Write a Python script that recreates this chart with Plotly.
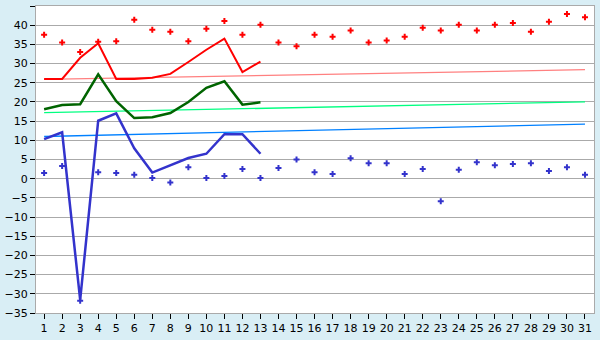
import plotly.graph_objects as go

days = list(range(1, 32))
red_pts = [37.5, 35.5, 33.0, 35.7, 35.8, 41.4, 38.8, 38.3, 35.8, 39.1, 41.1, 37.5, 40.1,
           35.5, 34.5, 37.5, 37.0, 38.6, 35.5, 36.0, 37.0, 39.3, 38.6, 40.1, 38.6, 40.1,
           40.6, 38.3, 40.9, 42.9, 42.1]
blue_pts = [1.5, 3.3, -31.8, 1.7, 1.5, 1.0, 0.2, -1.0, 3.0, 0.2, 0.7, 2.5, 0.2,
            2.8, 5.0, 1.7, 1.2, 5.3, 4.0, 4.0, 1.2, 2.5, -5.9, 2.3, 4.3, 3.5,
            3.8, 4.0, 2.0, 3.0, 1.0]
line_days = list(range(1, 14))
red_line = [26.0, 26.0, 31.5, 35.3, 26.0, 26.0, 26.3, 27.3, 30.4, 33.6, 36.5, 27.8, 30.5]
green_line = [18.1, 19.2, 19.4, 27.2, 20.2, 15.8, 16.0, 17.1, 20.0, 23.7, 25.4, 19.3, 19.9]
blue_line = [10.3, 12.1, -31.6, 15.1, 17.0, 7.9, 1.6, 3.5, 5.4, 6.5, 11.6, 11.6, 6.5]
trend_x = [1, 31]
pink_trend = [25.9, 28.4]
lgreen_trend = [17.2, 20.0]
lblue_trend = [11.0, 14.2]
y_ticks = list(range(-35, 50, 5))

fig = go.Figure()
for ys, c in [(pink_trend, "#FF8080"), (lgreen_trend, "#00FF80"), (lblue_trend, "#0080FF")]:
    fig.add_trace(go.Scatter(x=trend_x, y=ys, mode="lines", line=dict(color=c, width=1.3)))
fig.add_trace(go.Scatter(x=line_days, y=red_line, mode="lines", line=dict(color="#FF0000", width=2)))
fig.add_trace(go.Scatter(x=line_days, y=green_line, mode="lines", line=dict(color="#006400", width=2.5)))
fig.add_trace(go.Scatter(x=line_days, y=blue_line, mode="lines", line=dict(color="#3333CC", width=2.5)))
fig.add_trace(go.Scatter(x=days, y=red_pts, mode="markers",
                         marker=dict(symbol="cross", size=5, color="#FF0000")))
fig.add_trace(go.Scatter(x=days, y=blue_pts, mode="markers",
                         marker=dict(symbol="cross", size=5, color="#3333CC")))

fig.update_layout(
    width=600, height=340, showlegend=False,
    margin=dict(l=26, r=5, t=5, b=20),
    paper_bgcolor="#D9EEF5", plot_bgcolor="#FFFFFF",
    font=dict(family="DejaVu Sans", size=11, color="#000000"),
)
fig.update_xaxes(range=[0.55, 31.5], tickvals=days, ticks="outside", ticklen=5,
                 tickcolor="#000000", showgrid=False, zeroline=False,
                 showline=True, linecolor="#AAAAAA", mirror=True, fixedrange=True)
fig.update_yaxes(range=[-35, 45], tickvals=y_ticks, ticks="outside", ticklen=5,
                 tickcolor="#000000", showgrid=True, gridcolor="#AAAAAA", gridwidth=1,
                 zeroline=False, showline=True, linecolor="#AAAAAA", mirror=True,
                 fixedrange=True)

fig.write_html("out.html")
